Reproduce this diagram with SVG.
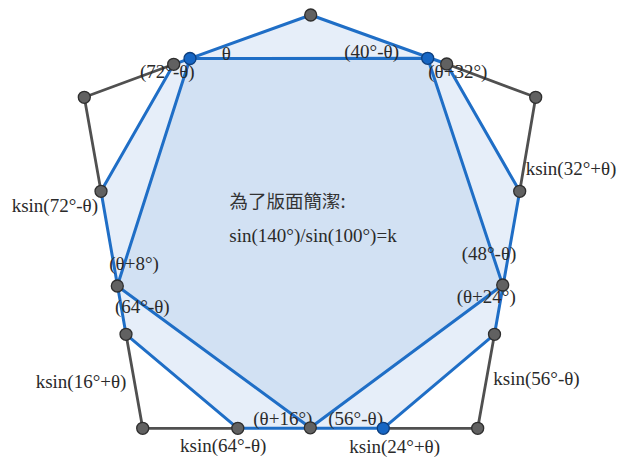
<svg xmlns="http://www.w3.org/2000/svg" width="617" height="461" viewBox="0 0 617 461">
<style>
.light{fill:#e6eef9;stroke:#1f6ec6;stroke-width:3;stroke-linejoin:round}
.dark{fill:#d2e1f3;stroke:#1f6ec6;stroke-width:3;stroke-linejoin:round}
.edge{fill:none;stroke:#505050;stroke-width:2.8;stroke-linejoin:round;stroke-linecap:round}
.gp{fill:#616161;stroke:#2e2e2e;stroke-width:1.3}
.bp{fill:#1666c4;stroke:#0e3f7e;stroke-width:1.3}
text{font-family:"Liberation Serif","Times New Roman",serif;font-size:19px;fill:#2a2a2a}
.cjk{font-family:"Noto Sans CJK TC","Noto Sans CJK SC",sans-serif;font-size:18.5px;fill:#333}
</style>
<rect width="617" height="461" fill="#ffffff"/>
<g id="connectors">
<polygon id="outer-fill" class="light" points="310.7,15 446.7,64 519.7,191.3 494.5,334.3 383.3,428.3 237.8,428.3 126,334.3 101,191.3 173.7,64.3"/>
<polygon id="inner-fill" class="dark" points="190,58.5 427.7,58.3 502.7,285 310.3,427.8 117.3,286"/>
<polyline class="edge" points="173.7,64.3 84.3,97.3 101,191.3"/>
<polyline class="edge" points="446.7,64 535.7,97.3 519.7,191.3"/>
<polyline class="edge" points="494.5,334.3 477.7,428.3 383.3,428.3"/>
<polyline class="edge" points="237.8,428.3 142.7,428.3 126,334.3"/>
</g>
<g id="labels">
<text x="221.7" y="59.5">θ</text>
<text x="140" y="78.3">(72°-θ)</text>
<text x="344.3" y="58.3">(40°-θ)</text>
<text x="428.3" y="78.3">(θ+32°)</text>
<text x="525.7" y="175">ksin(32°+θ)</text>
<text class="cjk" x="229.5" y="207.5">為了版面簡潔:</text>
<text x="229.3" y="242">sin(140°)/sin(100°)=k</text>
<text x="11.7" y="211.6">ksin(72°-θ)</text>
<text x="109.3" y="270">(θ+8°)</text>
<text x="461.7" y="260">(48°-θ)</text>
<text x="456.7" y="303.3">(θ+24°)</text>
<text x="115" y="313.3">(64°-θ)</text>
<text x="35.7" y="388.3">ksin(16°+θ)</text>
<text x="493.3" y="385">ksin(56°-θ)</text>
<text x="253.3" y="425.3">(θ+16°)</text>
<text x="328.3" y="425.3">(56°-θ)</text>
<text x="180" y="451.6">ksin(64°-θ)</text>
<text x="349.3" y="453.3">ksin(24°+θ)</text>
</g>
<g id="points">
<g id="P1"><circle class="gp" cx="310.7" cy="15" r="6"/></g>
<g id="P2"><circle class="gp" cx="84.3" cy="97.3" r="6"/></g>
<g id="P3"><circle class="gp" cx="173.7" cy="64.3" r="6"/></g>
<g id="P4"><circle class="gp" cx="446.7" cy="64" r="6"/></g>
<g id="P5"><circle class="gp" cx="535.7" cy="97.3" r="6"/></g>
<g id="P6"><circle class="gp" cx="101" cy="191.3" r="6"/></g>
<g id="P7"><circle class="gp" cx="519.7" cy="191.3" r="6"/></g>
<g id="P8"><circle class="gp" cx="117.3" cy="286" r="6"/></g>
<g id="P9"><circle class="gp" cx="502.7" cy="285" r="6"/></g>
<g id="P10"><circle class="gp" cx="126" cy="334.3" r="6"/></g>
<g id="P11"><circle class="gp" cx="494.5" cy="334.3" r="6"/></g>
<g id="P12"><circle class="gp" cx="142.7" cy="428.3" r="6"/></g>
<g id="P13"><circle class="gp" cx="237.8" cy="428.3" r="6"/></g>
<g id="P14"><circle class="gp" cx="310.3" cy="427.8" r="6"/></g>
<g id="P15"><circle class="gp" cx="477.7" cy="428.3" r="6"/></g>
<g id="B1"><circle class="bp" cx="190" cy="58.5" r="6"/></g>
<g id="B2"><circle class="bp" cx="427.7" cy="58.3" r="6"/></g>
<g id="B3"><circle class="bp" cx="383.3" cy="428.3" r="6"/></g>
</g>
</svg>
